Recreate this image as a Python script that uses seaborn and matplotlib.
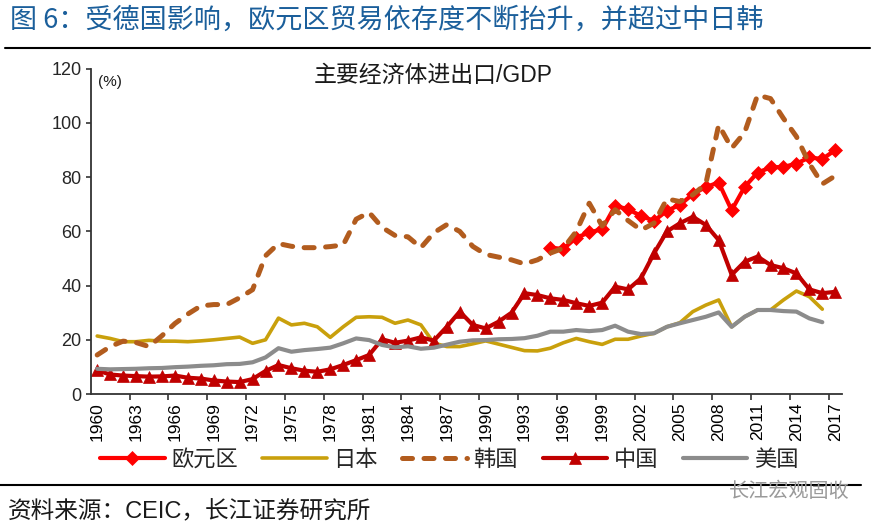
import numpy as np
import pandas as pd
import matplotlib
matplotlib.use("Agg")
import matplotlib.pyplot as plt
import seaborn as sns

# ---------------- data ----------------
years = list(range(1960, 2018))

euro_years = list(range(1995, 2018))
euro = [54.0, 53.5, 57.7, 59.6, 60.8, 69.4, 68.2, 65.7, 63.9, 67.6, 69.8, 73.7,
        76.4, 78.0, 67.8, 76.4, 81.7, 83.6, 83.8, 85.0, 87.3, 86.7, 90.0]

japan_years = list(range(1960, 2017))
japan = [21.4, 20.5, 19.3, 19.3, 19.8, 19.5, 19.5, 19.3, 19.6, 20.0, 20.5, 21.0,
         18.7, 20.0, 28.0, 25.5, 26.1, 24.8, 20.9, 24.8, 28.3, 28.5, 28.3, 26.1,
         27.3, 25.5, 18.8, 17.5, 17.5, 18.5, 19.6, 18.4, 17.2, 16.0, 15.9, 16.9,
         18.9, 20.5, 19.3, 18.3, 20.2, 20.2, 21.4, 22.4, 24.8, 26.3, 30.4, 32.8,
         34.7, 24.8, 28.5, 31.0, 31.0, 34.7, 38.0, 35.9, 31.3]

korea_years = list(range(1960, 2018))
korea = [14.4, 17.5, 19.5, 19.0, 17.5, 21.5, 26.0, 29.5, 32.5, 33.0, 33.0, 35.5,
         38.5, 51.0, 55.5, 54.5, 54.0, 54.0, 54.4, 55.0, 64.5, 67.0, 61.5, 58.5,
         58.0, 54.0, 59.5, 62.5, 60.0, 54.5, 51.5, 50.5, 49.5, 48.0, 49.5, 52.0,
         53.8, 60.0, 70.4, 62.0, 68.0, 64.0, 60.5, 63.0, 72.0, 71.0, 73.5, 77.5,
         99.3, 90.7, 96.5, 110.3, 109.0, 101.7, 95.0, 85.0, 77.5, 80.5]

china_years = list(range(1960, 2018))
china = [8.7, 7.2, 6.8, 6.6, 6.4, 6.5, 6.8, 6.0, 5.7, 5.0, 4.6, 4.4,
         5.5, 8.5, 10.7, 9.5, 8.6, 8.2, 9.1, 10.7, 12.5, 14.4, 20.2, 18.9,
         19.7, 20.9, 19.7, 24.8, 30.4, 25.5, 24.2, 26.7, 30.0, 37.2, 36.5, 35.3,
         34.7, 33.5, 32.5, 33.7, 39.6, 38.6, 42.7, 51.9, 60.0, 63.0, 65.4, 62.4,
         56.8, 44.0, 48.8, 50.7, 47.6, 46.4, 44.5, 38.6, 37.2, 37.7]

usa_years = list(range(1960, 2017))
usa = [9.3, 9.1, 9.2, 9.3, 9.5, 9.6, 9.9, 10.1, 10.4, 10.6, 11.0, 11.1,
       11.7, 13.5, 16.9, 15.6, 16.2, 16.6, 17.1, 18.7, 20.5, 19.9, 18.1, 17.2,
       17.6, 16.7, 17.1, 18.2, 19.3, 19.8, 19.9, 20.2, 20.3, 20.6, 21.5, 23.0,
       23.0, 23.6, 23.2, 23.6, 25.2, 23.0, 22.1, 22.4, 24.8, 26.1, 27.3, 28.5,
       30.1, 24.8, 28.5, 31.0, 31.0, 30.6, 30.4, 27.9, 26.5]

series_names = ["欧元区", "日本", "韩国", "中国", "美国"]
xtick_years = list(range(1960, 2018, 3))
yticks = [0, 20, 40, 60, 80, 100, 120]

# ---------------- style ----------------
sns.set_theme(style="white")
plt.rcParams["font.family"] = ["Liberation Sans", "Noto Sans CJK SC", "DejaVu Sans"]
plt.rcParams["axes.unicode_minus"] = False

fig = plt.figure(figsize=(8.79, 5.30), dpi=100)
ax = fig.add_axes([0.1032, 0.2566, 0.9576 - 0.1032, 0.8702 - 0.2566])

def draw(xs, ys, label, color, lw, **kw):
    df = pd.DataFrame({"year": xs, "value": ys})
    sns.lineplot(data=df, x="year", y="value", ax=ax, color=color, linewidth=lw,
                 label=label, errorbar=None, **kw)
    return ax.lines[-1]

l_euro = draw(euro_years, euro, series_names[0], "#ff0000", 3.0,
              marker="D", markersize=7.5, markeredgecolor="#ff0000",
              markerfacecolor="#ff0000", markeredgewidth=0.5)
l_japan = draw(japan_years, japan, series_names[1], "#c9a00c", 2.6)
l_korea = draw(korea_years, korea, series_names[2], "#b25c1e", 3.6)
l_korea.set_linestyle((0, (2.0, 2.3)))
l_korea.set_dash_capstyle("round")
l_china = draw(china_years, china, series_names[3], "#c00000", 3.0,
               marker="^", markersize=8.5, markeredgecolor="#c00000",
               markerfacecolor="#c00000", markeredgewidth=0.5)
l_usa = draw(usa_years, usa, series_names[4], "#8c8c8c", 3.0)

if ax.get_legend() is not None:
    ax.get_legend().remove()

ax.set_xlim(1959.5, 2017.5)
ax.set_ylim(0, 120)
ax.set_xlabel("")
ax.set_ylabel("")

ax.set_xticks(xtick_years)
ax.set_xticklabels([str(y) for y in xtick_years], rotation=90, fontsize=12.5,
                   family="Liberation Sans")
ax.set_xticks([y + 2.5 for y in range(1960, 2015, 3)], minor=True)
ax.tick_params(axis="x", which="major", length=0, pad=6, colors="black")
ax.tick_params(axis="x", which="minor", length=4.5, width=1.2, direction="out",
               color="#333333", bottom=True)
ax.set_yticks(yticks)
ax.set_yticklabels([str(v) for v in yticks], fontsize=13, family="Liberation Sans")
ax.tick_params(axis="y", which="major", length=3.5, width=1.2, direction="out",
               color="#333333", left=True, pad=3)

for s in ["top", "right"]:
    ax.spines[s].set_visible(False)
for s in ["left", "bottom"]:
    ax.spines[s].set_color("#333333")
    ax.spines[s].set_linewidth(1.3)
ax.grid(False)

# texts
fig.text(0.011, 0.962, "图 6：受德国影响，欧元区贸易依存度不断抬升，并超过中日韩",
         fontsize=19.5, color="#1b5f9b", ha="left", va="center",
         family=["Noto Sans CJK SC", "Liberation Sans"], fontweight="medium")
fig.add_artist(plt.Line2D([0.006, 0.99], [0.9094, 0.9094], color="black", lw=1.5,
                          transform=fig.transFigure))
fig.text(0.4926, 0.858, "主要经济体进出口/GDP", fontsize=16.5, ha="center", va="center",
         color="#1a1a1a")
fig.text(0.111, 0.845, "(%)", fontsize=11, ha="left", va="center", color="#1a1a1a")

fig.legend(handles=[l_euro, l_japan, l_korea, l_china, l_usa], labels=series_names,
           loc="center", bbox_to_anchor=(0.511, 0.132), ncol=5, frameon=False,
           fontsize=16, handlelength=2.9, handletextpad=0.3, columnspacing=1.1,
           numpoints=1)

fig.add_artist(plt.Line2D([0.0, 0.98], [0.085, 0.085], color="black", lw=1.5,
                          transform=fig.transFigure))
fig.text(0.009, 0.034, "资料来源：CEIC，长江证券研究所", fontsize=17, ha="left",
         va="center", color="#1a1a1a")
fig.text(0.967, 0.072, "长江宏观固收", fontsize=14.5, ha="right", va="center",
         color="#9a9a9a", family=["Noto Sans CJK SC"])

fig.savefig("out.png", dpi=100)
